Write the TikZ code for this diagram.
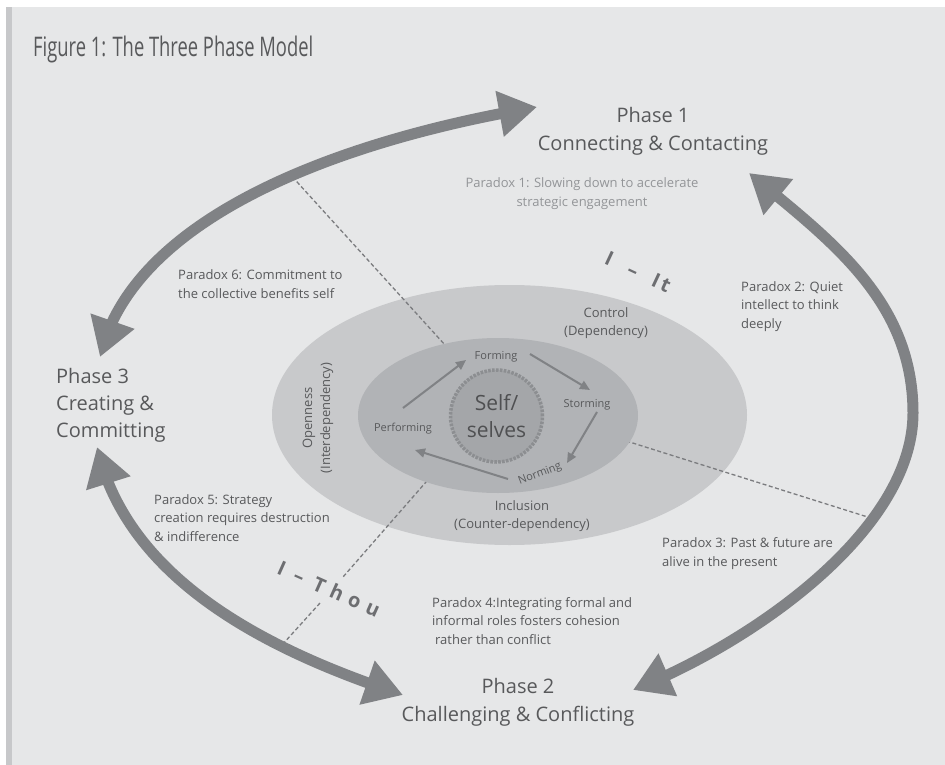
\documentclass[tikz,border=0pt]{standalone}
\usepackage{fontspec}
\setmainfont{Open Sans}
\newfontfamily\titlefont[FakeStretch=0.68]{Open Sans}
\usetikzlibrary{arrows.meta,bending}

\definecolor{bgc}{HTML}{E6E7E8}
\definecolor{barc}{HTML}{C7C8CA}
\definecolor{ringA}{HTML}{C8C9CB}
\definecolor{ringB}{HTML}{B1B3B6}
\definecolor{core}{HTML}{A4A6A9}
\definecolor{coreedge}{HTML}{8C8E91}
\definecolor{arrowc}{HTML}{808285}
\definecolor{txt}{HTML}{58595B}
\definecolor{txtlight}{HTML}{939598}
\definecolor{dashc}{HTML}{7B7C7F}
\definecolor{relc}{HTML}{6D6E71}

\begin{document}
\begin{tikzpicture}[x=1pt,y=-1pt,
  bigarc/.style={draw=arrowc, line width=11pt,
    {Triangle[length=38pt,width=44pt,flex]}-{Triangle[length=38pt,width=44pt,flex]}},
  cyc/.style={draw=arrowc, line width=2pt, -{Triangle[length=10pt,width=9pt]}},
  divider/.style={draw=dashc, line width=1.3pt, dash pattern=on 4pt off 2.5pt},
  phase/.style={font=\fontsize{20}{28}\selectfont, text=txt, align=center, inner sep=0pt},
  para/.style={font=\fontsize{13}{18.5}\selectfont, text=txt, align=left, inner sep=0pt},
  ring/.style={font=\fontsize{13}{18}\selectfont, text=txt, align=center, inner sep=0pt},
  stage/.style={font=\fontsize{11}{13}\selectfont, text=txt, inner sep=0pt},
  relation/.style={font=\fontsize{20}{22}\selectfont\bfseries, text=relc, inner sep=0pt},
]
\useasboundingbox (0,0) rectangle (945,765);

% page and panel
\fill[white] (0,0) rectangle (945,765);
\fill[bgc] (6,7) rectangle (945,765);
\fill[barc] (6,7) rectangle (12,765);

\node[anchor=base west, inner sep=0pt, text=txt, font=\titlefont\fontsize{27}{32}\selectfont]
  (title) at (33,57) {Figure 1: The Three Phase Model};

% outer ring of relations
\fill[ringA] (509.5,415) ellipse [x radius=237.5pt, y radius=130pt];

% dividers between the phases (run under the inner ring)
\coordinate (d1a) at (288,172);  \coordinate (d1b) at (455,356);
\coordinate (d2a) at (620,439);  \coordinate (d2b) at (874,519);
\coordinate (d3a) at (440,466);  \coordinate (d3b) at (343,577);
\coordinate (d3c) at (320,603);  \coordinate (d3d) at (282,645);
\draw[divider] (d1a) -- (d1b);
\draw[divider] (d2a) -- (d2b);
\draw[divider] (d3a) -- (d3b);
\draw[divider] (d3c) -- (d3d);

% inner ring and core
\fill[ringB] (498,415.5) ellipse [x radius=140pt, y radius=77.5pt];
\node[circle, minimum size=92pt, inner sep=0pt, fill=core, draw=coreedge,
  line width=3.5pt, dash pattern=on 2.6pt off 1.3pt, align=center,
  font=\fontsize{21}{27}\selectfont, text=txt!90!black] (self) at (496.5,416) {Self/\\selves};

% phase cycle arrows
\coordinate (t3a) at (100,357);  \coordinate (t1a) at (537,107);
\coordinate (t1b) at (749,173);  \coordinate (t2b) at (633,690);
\coordinate (t3b) at (97,447);   \coordinate (t2a) at (403,695);
\draw[bigarc] (t3a) .. controls (131,221) and (330,142) .. (t1a);
\draw[bigarc] (t1b) .. controls (830,240) and (913,300) .. (913,413)
                    .. controls (913,530) and (753.9,641.9) .. (t2b);
\draw[bigarc] (t3b) .. controls (126.7,578.6) and (265.3,650) .. (t2a);

% phases (multi-line nodes: base sits on the last line)
\node[phase, anchor=base] (ph1) at (653,150) {Phase 1\\Connecting \& Contacting};
\node[phase, anchor=base] (ph2) at (518,721) {Phase 2\\Challenging \& Conflicting};
\node[phase, anchor=base west, align=left, font=\fontsize{20}{27}\selectfont] (ph3) at (56,437)
  {Phase 3\\Creating \&\\Committing};

% paradoxes
\node[para, text=txtlight, align=center, anchor=base] (px1) at (582,206)
  {Paradox 1: Slowing down to accelerate\\strategic engagement};
\node[para, anchor=base west] (px2) at (741,328) {Paradox 2: Quiet\\intellect to think\\deeply};
\node[para, anchor=base west] (px3) at (662,566) {Paradox 3: Past \& future are\\alive in the present};
\node[para, anchor=base west] (px4) at (432,644)
  {Paradox 4:Integrating formal and\\informal roles fosters cohesion\\\hspace{3pt}rather than conflict};
\node[para, anchor=base west] (px5) at (154,541)
  {Paradox 5: Strategy\\creation requires destruction\\\& indifference};
\node[para, anchor=base west] (px6) at (178,298) {Paradox 6: Commitment to\\the collective benefits self};

% ring labels
\node[ring, anchor=base] (ctrl) at (606,335) {Control\\(Dependency)};
\node[ring, anchor=base] (incl) at (522,528) {Inclusion\\(Counter-dependency)};
\node[ring, rotate=90] (open) at (318,418) {Openness\\(Interdependency)};

% relation labels
\node[relation, rotate=-25] (it) at (638,272) {I\kern18pt--\kern17pt I\kern3pt t};
\node[relation, rotate=-24] (thou) at (329,589) {I\kern11pt--\kern11pt T\kern7pt h\kern7pt o\kern7pt u};

% group stages
\node[stage, anchor=base] (perf) at (403,431) {Performing};
\node[stage, anchor=base] (form) at (496,359) {Forming};
\node[stage, anchor=base] (storm) at (587,407) {Storming};
\node[stage, rotate=21] (norm) at (540,474) {Norming};

\draw[cyc] ([shift={(0,-23)}]perf.base) -- ([shift={(-30,1)}]form.base);
\draw[cyc] ([shift={(34,-5)}]form.base) -- ([shift={(3,-17)}]storm.base);
\draw[cyc] ([shift={(10,5)}]storm.base) -- ([shift={(27,-11)}]norm.center);
\draw[cyc] ([shift={(-32,5)}]norm.center) -- ([shift={(12,19)}]perf.base);
\end{tikzpicture}
\end{document}
